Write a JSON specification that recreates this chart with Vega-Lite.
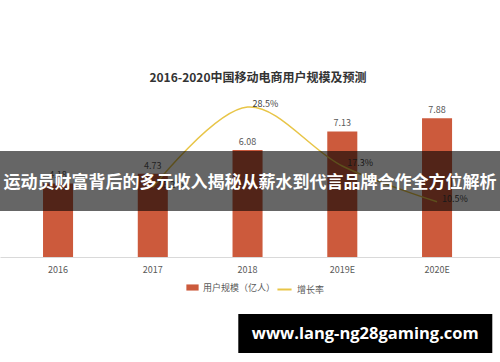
{
  "$schema": "https://vega.github.io/schema/vega-lite/v6.json",
  "width": 500,
  "height": 362,
  "autosize": {"type": "none"},
  "padding": 0,
  "background": "#ffffff",
  "config": {
    "view": {"stroke": null},
    "font": "Noto Sans CJK SC",
    "axisX": {"offset": -105, "labelAngle": 0, "labelFontSize": 9, "labelColor": "#595959", "ticks": false, "domainColor": "#d9d9d9", "labelPadding": 8, "grid": false}
  },
  "title": {"text": "2016-2020中国移动电商用户规模及预测", "fontSize": 12, "fontWeight": "bold", "color": "#333333", "offset": -85, "anchor": "middle", "dx": 8, "font": "Noto Sans CJK SC"},
  "data": {"values": [
    {"year": "2016", "users": 4.18, "growth": null},
    {"year": "2017", "users": 4.73, "growth": 0.132},
    {"year": "2018", "users": 6.08, "growth": 0.285},
    {"year": "2019E", "users": 7.13, "growth": 0.173},
    {"year": "2020E", "users": 7.88, "growth": 0.105}
  ]},
  "layer": [
    {
      "layer": [
        {
          "mark": {"type": "bar"},
          "encoding": {
            "x": {"field": "year", "type": "nominal", "title": null, "scale": {"domain": ["2016", "2017", "2018", "2019E", "2020E"], "paddingInner": 0.683, "paddingOuter": 0.48, "align": 0.473}},
            "y": {"field": "users", "type": "quantitative", "scale": {"domain": [-5.966, 14.6], "nice": false, "zero": false}, "axis": null},
            "fill": {"datum": "用户规模（亿人）", "scale": {"range": ["#cc5a3c"]}, "legend": {"orient": "none", "legendX": 186, "legendY": 281, "title": null, "symbolType": "M-1,-0.5H1V0.5H-1Z", "symbolSize": 150, "symbolStrokeWidth": 0, "labelFontSize": 9, "labelColor": "#595959"}}
          }
        },
        {
          "mark": {"type": "text", "dy": -8, "fontSize": 9, "color": "#595959"},
          "encoding": {
            "x": {"field": "year", "type": "nominal", "title": null},
            "y": {"field": "users", "type": "quantitative"},
            "text": {"field": "users", "type": "quantitative", "format": ".2f"}
          }
        }
      ]
    },
    {
      "transform": [{"filter": "isValid(datum.growth)"}],
      "layer": [
        {
          "mark": {"type": "line", "interpolate": "catmull-rom", "strokeWidth": 1.5},
          "encoding": {
            "x": {"field": "year", "type": "nominal", "title": null},
            "y": {"field": "growth", "type": "quantitative", "scale": {"domain": [-0.1996, 0.4886], "nice": false, "zero": false}, "axis": null},
            "stroke": {"datum": "增长率", "scale": {"range": ["#e8c547"]}, "legend": {"orient": "none", "legendX": 276, "legendY": 281, "title": null, "symbolType": "stroke", "symbolSize": 200, "symbolStrokeWidth": 2, "labelFontSize": 9, "labelColor": "#595959"}}
          }
        },
        {
          "mark": {"type": "text", "align": "left", "baseline": "middle", "dx": 5, "dy": -3, "fontSize": 9, "color": "#404040"},
          "encoding": {
            "x": {"field": "year", "type": "nominal", "title": null},
            "y": {"field": "growth", "type": "quantitative"},
            "text": {"field": "growth", "type": "quantitative", "format": ".1%"}
          }
        }
      ]
    },
    {
      "data": {"values": [{"banner": "运动员财富背后的多元收入揭秘从薪水到代言品牌合作全方位解析", "site": "www.lang-ng28gaming.com"}]},
      "layer": [
        {
          "mark": {"type": "rect", "color": "#000000", "opacity": 0.6},
          "encoding": {
            "y": {"datum": 6.02, "type": "quantitative", "scale": {"domain": [-5.966, 14.6], "nice": false, "zero": false}, "axis": null},
            "y2": {"datum": 2.61}
          }
        },
        {
          "mark": {"type": "text", "color": "#ffffff", "fontSize": 17, "fontWeight": "bold", "baseline": "middle", "align": "center"},
          "encoding": {
            "y": {"datum": 4.2, "type": "quantitative"},
            "text": {"field": "banner", "type": "nominal"}
          }
        },
        {
          "mark": {"type": "bar", "color": "#000000", "width": 254, "xOffset": 23},
          "encoding": {
            "x": {"datum": "2019E", "type": "nominal", "title": null},
            "y": {"datum": -3.24, "type": "quantitative"},
            "y2": {"datum": -5.45}
          }
        },
        {
          "mark": {"type": "text", "color": "#ffffff", "fontSize": 16.5, "fontWeight": "bold", "font": "Open Sans", "baseline": "middle", "align": "center", "dx": 23},
          "encoding": {
            "x": {"datum": "2019E", "type": "nominal", "title": null},
            "y": {"datum": -4.35, "type": "quantitative"},
            "text": {"field": "site", "type": "nominal"}
          }
        }
      ]
    }
  ],
  "resolve": {"scale": {"y": "independent"}}
}
